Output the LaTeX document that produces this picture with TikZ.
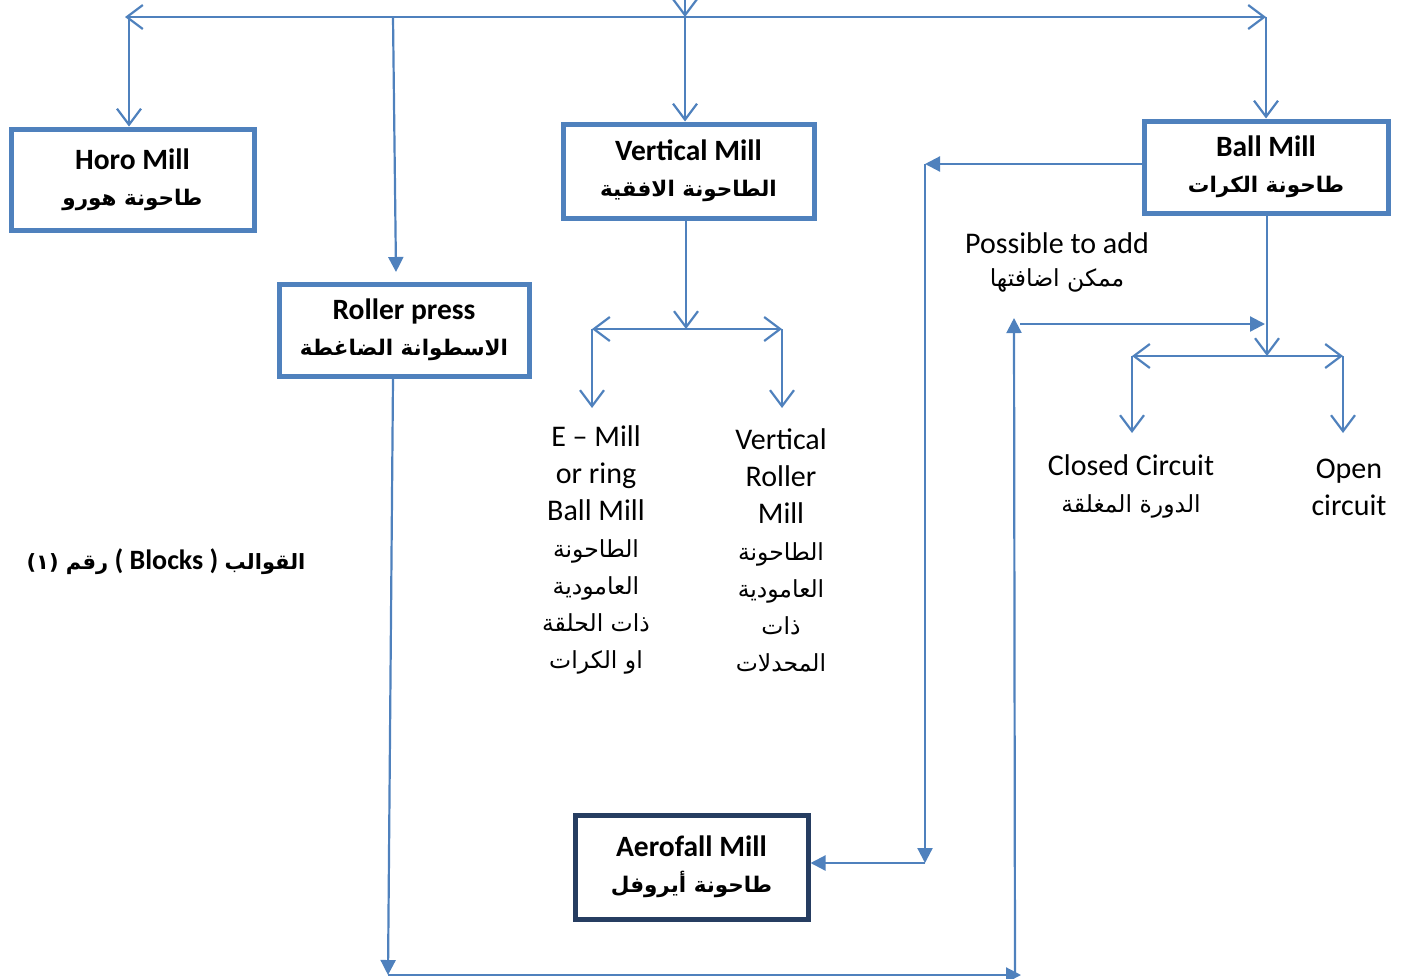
\documentclass[tikz,border=0pt]{standalone}
\usepackage{fontspec}
\setmainfont{Carlito}
\newfontfamily\arb[Script=Arabic]{DejaVu Sans}
\TeXXeTstate=1
\usetikzlibrary{arrows.meta}
\definecolor{lblue}{RGB}{79,129,189}
\definecolor{navy}{RGB}{38,61,97}
\newcommand{\artxt}[1]{{\arb\fontsize{23.5}{37}\selectfont\beginR #1\endR}}
\newcommand{\arbold}[1]{{\arb\bfseries\fontsize{21.5}{36}\selectfont\beginR #1\endR}}
\begin{document}
\begin{tikzpicture}[x=1pt,y=-1pt,
  box/.style={draw=lblue, line width=5pt, fill=white, align=center, inner sep=0pt,
    font=\fontsize{29.5}{36}\selectfont},
  txt/.style={align=center, inner sep=0pt, font=\fontsize{30}{37}\selectfont},
  ln/.style={draw=lblue, line width=2.2pt},
  oarr/.style={ln, -{Straight Barb[length=16pt,width=24pt]}},
  oboth/.style={ln, {Straight Barb[length=16pt,width=24pt]}-{Straight Barb[length=16pt,width=24pt]}},
  farr/.style={ln, -{Triangle[length=15pt,width=15pt]}, fill=lblue}]
\useasboundingbox (0,0) rectangle (1402,978);

% boxes
\node[box, minimum width=243pt, minimum height=101pt] (horo) at (132.5,179.5)
  {\textbf{Horo Mill}\\\arbold{طاحونة هورو}};
\node[box, minimum width=250pt, minimum height=92pt] (roller) at (404,330)
  {\textbf{Roller press}\\\arbold{الاسطوانة الضاغطة}};
\node[box, minimum width=251pt, minimum height=94pt] (vert) at (688.5,171)
  {\textbf{Vertical Mill}\\\arbold{الطاحونة الافقية}};
\node[box, minimum width=244pt, minimum height=92pt] (ball) at (1266,167)
  {\textbf{Ball Mill}\\\arbold{طاحونة الكرات}};
\node[box, draw=navy, minimum width=233pt, minimum height=104pt] (aero) at (691.5,867)
  {\textbf{Aerofall Mill}\\\arbold{طاحونة أيروفل}};

% texts
\node[txt] (poss) at (1057,243) {Possible to add};
\node[txt] (possar) at (1057,280) {\artxt{ممكن اضافتها}};
\node[txt] (closed) at (1131,486) {Closed Circuit\\\artxt{الدورة المغلقة}};
\node[txt] (open) at (1349,487) {Open\\circuit};
\node[txt] (emill) at (596,550) {E -- Mill\\or ring\\Ball Mill\\\artxt{الطاحونة}\\\artxt{العامودية}\\\artxt{ذات الحلقة}\\\artxt{او الكرات}};
\node[txt] (vrm) at (781,550) {Vertical\\Roller\\Mill\\\artxt{الطاحونة}\\\artxt{العامودية}\\\artxt{ذات}\\\artxt{المحدلات}};
\node[txt, font=\fontsize{28}{32}\selectfont] (blocks) at (166,562)
  {{\arb\bfseries\fontsize{21}{32}\selectfont (١) \beginR رقم\endR}\textbf{ ( Blocks ) }{\arb\bfseries\fontsize{21}{32}\selectfont\beginR القوالب\endR}};

% coordinates
\coordinate (topin) at (685,-8);
\coordinate (barL) at (125,17);
\coordinate (barR) at (1266,17);
\coordinate (barM) at (685,17);
\coordinate (bh) at (129,17);
\coordinate (br) at (393,17);
\coordinate (rp) at (396,272);
\coordinate (vb) at (686,329);
\coordinate (vbl) at (592,329);
\coordinate (vbr) at (782,329);
\coordinate (et) at (592,408);
\coordinate (vt) at (782,408);
\coordinate (bb) at (1267,356);
\coordinate (bbl) at (1132,356);
\coordinate (bbr) at (1343,356);
\coordinate (ct) at (1132,433);
\coordinate (ot) at (1343,433);
\coordinate (c1) at (925,164);
\coordinate (c2) at (925,863);
\coordinate (d1) at (388,975);
\coordinate (d2) at (1021,975);
\coordinate (d3) at (1015,975);
\coordinate (d4) at (1014,318);
\coordinate (d5) at (1020,324);
\coordinate (d6) at (1265,324);

% top distribution
\draw[oboth] (barL) -- (barR);
\draw[oarr] (topin) -- (barM);
\draw[oarr] (bh) -- (bh |- horo.north);
\draw[oarr] (barM) -- (barM |- vert.north);
\draw[oarr] (barR) -- (barR |- ball.north);
\draw[farr] (br) -- (rp);

% vertical mill branches
\draw[oarr] (vb |- vert.south) -- (vb);
\draw[oboth] (vbl) -- (vbr);
\draw[oarr] (vbl) -- (et);
\draw[oarr] (vbr) -- (vt);

% ball mill branches
\draw[oarr] (bb |- ball.south) -- (bb);
\draw[oboth] (bbl) -- (bbr);
\draw[oarr] (bbl) -- (ct);
\draw[oarr] (bbr) -- (ot);

% ball mill to aerofall
\draw[farr] (ball.west |- c1) -- (c1);
\draw[farr] (c1) -- (c2);
\draw[farr] (c2) -- (aero.east |- c2);

% roller press loop
\draw[farr] (roller.south -| br) -- (d1);
\draw[farr] (d1) -- (d2);
\draw[farr] (d3) -- (d4);
\draw[farr] (d5) -- (d6);
\end{tikzpicture}
\end{document}
